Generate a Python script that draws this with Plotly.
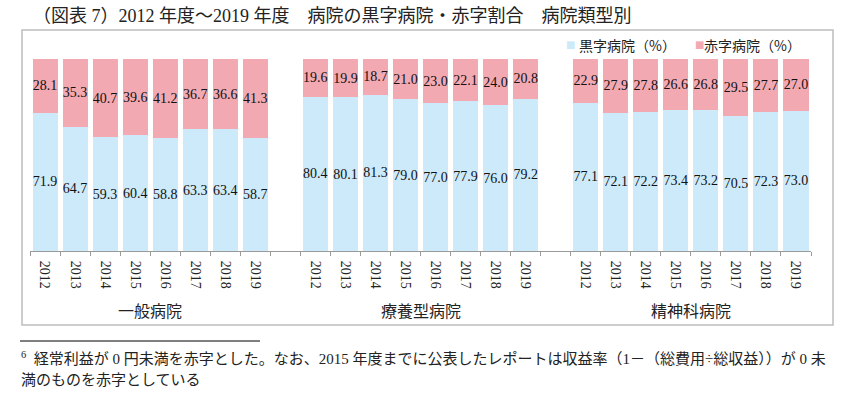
import plotly.graph_objects as go

groups = ["一般病院", "療養型病院", "精神科病院"]
years = ["2012", "2013", "2014", "2015", "2016", "2017", "2018", "2019"]
black_general = [71.9, 64.7, 59.3, 60.4, 58.8, 63.3, 63.4, 58.7]
red_general = [28.1, 35.3, 40.7, 39.6, 41.2, 36.7, 36.6, 41.3]
black_ryoyo = [80.4, 80.1, 81.3, 79.0, 77.0, 77.9, 76.0, 79.2]
red_ryoyo = [19.6, 19.9, 18.7, 21.0, 23.0, 22.1, 24.0, 20.8]
black_seishin = [77.1, 72.1, 72.2, 73.4, 73.2, 70.5, 72.3, 73.0]
red_seishin = [22.9, 27.9, 27.8, 26.6, 26.8, 29.5, 27.7, 27.0]
series_names = ["黒字病院（%）", "赤字病院（%）"]

title = "（図表 7）2012 年度～2019 年度　病院の黒字病院・赤字割合　病院類型別"
foot1 = "<sup>6</sup>  経常利益が 0 円未満を赤字とした。なお、2015 年度までに公表したレポートは収益率（1－（総費用÷総収益））が 0 未"
foot2 = "満のものを赤字としている"

BLUE = "#CDEAFA"
PINK = "#F3A9B2"
SERIF = "Liberation Serif, Noto Sans CJK JP"
JP = "Noto Sans CJK JP"

black_all = black_general + black_ryoyo + black_seishin
red_all = red_general + red_ryoyo + red_seishin
step = len(years) + 1
xs = [g * step + i for g in range(len(groups)) for i in range(len(years))]
ticktext = years * len(groups)

fig = go.Figure()
for vals, color, name in [(black_all, BLUE, series_names[0]), (red_all, PINK, series_names[1])]:
    fig.add_trace(go.Bar(
        x=xs, y=vals, name=name, marker=dict(color=color, line=dict(width=0)),
        text=[f"{v:.1f}" for v in vals], textposition="inside",
        insidetextanchor="middle", constraintext="none", textangle=0,
        textfont=dict(family=SERIF, size=14, color="#111"),
        showlegend=False,
    ))

# plot area in pixels
L, R, T, B = 30, 811, 59, 251
W, H = R - L, B - T

def px(x):
    return (x - L) / W

def py(y):
    return (B - y) / H

nslots = len(groups) * step - 1
fig.update_layout(
    width=854, height=399,
    margin=dict(l=L, r=854 - R, t=T, b=399 - B, pad=0),
    barmode="stack", bargap=1 / 6,
    plot_bgcolor="white", paper_bgcolor="white",
    xaxis=dict(
        range=[-0.5, nslots - 0.5], tickmode="array", tickvals=xs, ticktext=ticktext,
        tickangle=90, ticks="outside", ticklen=6, tickcolor="rgba(0,0,0,0)",
        tickfont=dict(family=SERIF, size=14, color="#222"),
        showline=True, linecolor="#9a9a9a", linewidth=1, showgrid=False, zeroline=False,
        minor=dict(tickmode="array", tickvals=[i - 0.5 for i in range(nslots + 1)],
                   ticks="outside", ticklen=4, tickcolor="#9a9a9a", showgrid=False),
    ),
    yaxis=dict(range=[0, 100], visible=False),
)

# border box
fig.add_shape(type="rect", xref="paper", yref="paper",
              x0=px(22), x1=px(833), y0=py(325), y1=py(30),
              line=dict(color="#BDBDBD", width=1.5), fillcolor="rgba(0,0,0,0)")
# footnote rule
fig.add_shape(type="line", xref="paper", yref="paper",
              x0=px(20), x1=px(260), y0=py(341), y1=py(341),
              line=dict(color="#000", width=1))

ann = []
ann.append(dict(text=title, x=px(31), y=py(16), xref="paper", yref="paper",
                xanchor="left", yanchor="middle", showarrow=False,
                font=dict(family=SERIF, size=18, color="#222")))
for g, name in enumerate(groups):
    ann.append(dict(text=name, x=g * step + (len(years) - 1) / 2, y=py(310), xref="x", yref="paper",
                    xanchor="center", yanchor="middle", showarrow=False,
                    font=dict(family=JP, size=16, color="#222")))
# legend
for sx, tx, color, name in [(564, 577, BLUE, series_names[0]), (693, 702, PINK, series_names[1])]:
    ann.append(dict(text="■", x=px(sx), y=py(45), xref="paper", yref="paper",
                    xanchor="left", yanchor="middle", showarrow=False,
                    font=dict(family="DejaVu Sans", size=10, color=color)))
    ann.append(dict(text=name, x=px(tx), y=py(45), xref="paper", yref="paper",
                    xanchor="left", yanchor="middle", showarrow=False,
                    font=dict(family=JP, size=14, color="#222")))
ann.append(dict(text=foot1, x=px(19), y=py(358), xref="paper", yref="paper",
                xanchor="left", yanchor="middle", showarrow=False,
                font=dict(family=SERIF, size=15, color="#222")))
ann.append(dict(text=foot2, x=px(19), y=py(380), xref="paper", yref="paper",
                xanchor="left", yanchor="middle", showarrow=False,
                font=dict(family=SERIF, size=15, color="#222")))
fig.update_layout(annotations=ann)

fig.write_html("out.html", config={"displayModeBar": False},
               post_script="document.body.style.margin='0';")
